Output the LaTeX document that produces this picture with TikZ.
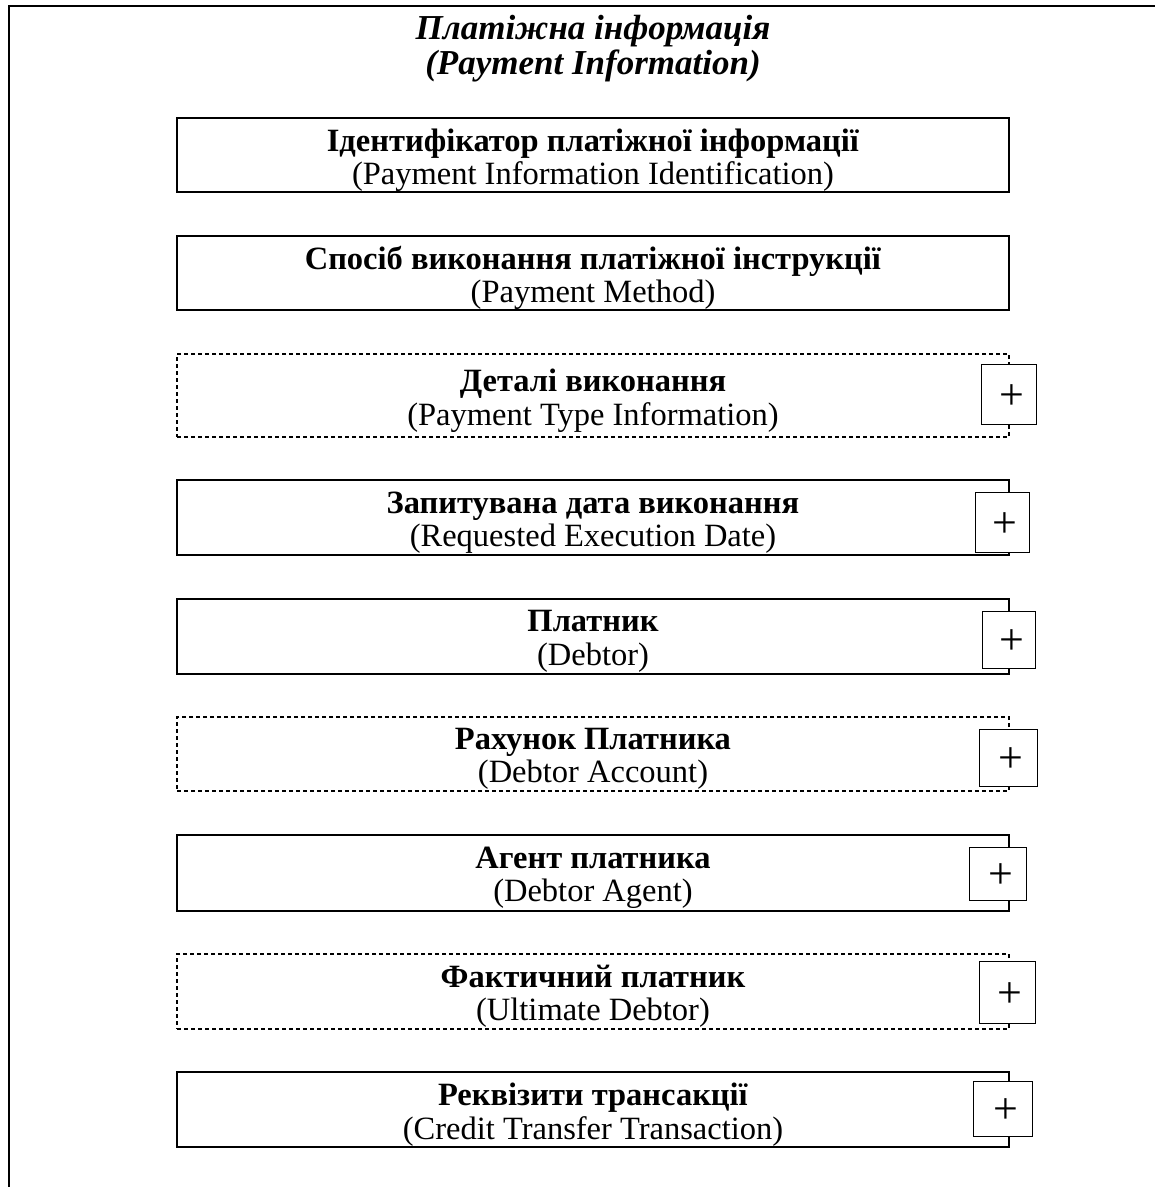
\documentclass[tikz,border=0pt]{standalone}
\usepackage{fontspec}
\setmainfont{Liberation Serif}
\newcommand{\plussign}{\kern6pt\raisebox{-3pt}[\height][\depth]{+}}
\begin{document}
\begin{tikzpicture}[x=1pt,y=-1pt,
  boxtxt/.style={font=\fontsize{32.5}{33.5}\selectfont, align=center, inner sep=0pt},
  mainbox/.style={draw, line width=1.7pt, minimum width=832pt, inner sep=0pt},
  optbox/.style={mainbox, line width=1.3pt, dash pattern=on 4pt off 3pt},
  plusbox/.style={draw, fill=white, line width=1pt, inner sep=0pt, font=\fontsize{44}{44}\selectfont}
]
\useasboundingbox (0,0) rectangle (1155,1187);
\draw[line width=2pt] (9,1190) -- (9,6) -- (1160,6);

\node[boxtxt, font=\fontsize{35}{35}\selectfont\bfseries\itshape] (title) at (593,49)
  {Платіжна інформація\\(Payment Information)};

\node[mainbox, minimum height=74pt] (b1) at (593,155) {};
\node[mainbox, minimum height=74pt] (b2) at (593,273) {};
\node[optbox, minimum height=83pt] (b3) at (593,395.5) {};
\node[mainbox, minimum height=75pt] (b4) at (593,517.5) {};
\node[mainbox, minimum height=75pt] (b5) at (593,636.5) {};
\node[optbox, minimum height=74pt] (b6) at (593,754) {};
\node[mainbox, minimum height=76pt] (b7) at (593,873) {};
\node[optbox, minimum height=75pt] (b8) at (593,991.5) {};
\node[mainbox, minimum height=75pt] (b9) at (593,1109.5) {};

\node[boxtxt] (t1) at ([yshift=-5pt]b1.center)
  {\textbf{Ідентифікатор платіжної інформації}\\(Payment Information Identification)};
\node[boxtxt] (t2) at ([yshift=-5pt]b2.center)
  {\textbf{Спосіб виконання платіжної інструкції}\\(Payment Method)};
\node[boxtxt] (t3) at ([yshift=-5pt]b3.center)
  {\textbf{Деталі виконання}\\(Payment Type Information)};
\node[boxtxt] (t4) at ([yshift=-5pt]b4.center)
  {\textbf{Запитувана дата виконання}\\(Requested Execution Date)};
\node[boxtxt] (t5) at ([yshift=-5pt]b5.center)
  {\textbf{Платник}\\(Debtor)};
\node[boxtxt] (t6) at ([yshift=-5pt]b6.center)
  {\textbf{Рахунок Платника}\\(Debtor Account)};
\node[boxtxt] (t7) at ([yshift=-5pt]b7.center)
  {\textbf{Агент платника}\\(Debtor Agent)};
\node[boxtxt] (t8) at ([yshift=-5pt]b8.center)
  {\textbf{Фактичний платник}\\(Ultimate Debtor)};
\node[boxtxt] (t9) at ([yshift=-5pt]b9.center)
  {\textbf{Реквізити трансакції}\\(Credit Transfer Transaction)};

\node[plusbox, minimum width=55pt, minimum height=60pt] (p3) at (1008.5,394) {\plussign};
\node[plusbox, minimum width=54pt, minimum height=60pt] (p4) at (1002,522) {\plussign};
\node[plusbox, minimum width=53pt, minimum height=57pt] (p5) at (1008.5,639.5) {\plussign};
\node[plusbox, minimum width=58pt, minimum height=57pt] (p6) at (1008,757.5) {\plussign};
\node[plusbox, minimum width=57pt, minimum height=53pt] (p7) at (997.5,873.5) {\plussign};
\node[plusbox, minimum width=56pt, minimum height=62pt] (p8) at (1007,992) {\plussign};
\node[plusbox, minimum width=59pt, minimum height=55pt] (p9) at (1002.5,1108.5) {\plussign};
\end{tikzpicture}
\end{document}
